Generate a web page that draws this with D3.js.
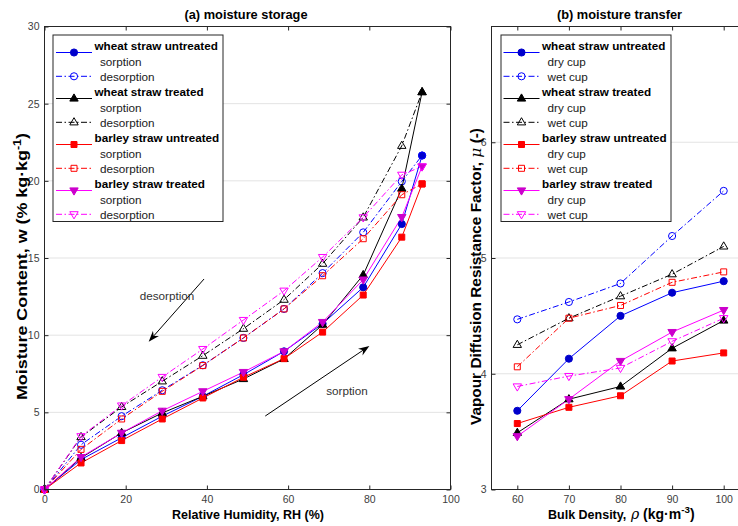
<!DOCTYPE html>
<html>
<head>
<meta charset="utf-8">
<script src="https://cdn.jsdelivr.net/npm/d3@7"></script>
<style>
  html, body { margin: 0; padding: 0; background: #fff; }
  svg { display: block; }
</style>
</head>
<body>
<svg id="chart" width="738" height="526"></svg>
<script>
// ---------- (a) moisture storage: relative humidity (%) vs moisture content (% kg/kg) ----------
const rh = [0, 9, 19, 29, 39, 49, 59, 68.5, 78.5, 88, 93];

const wheatUntreatedSorption   = [0, 1.94, 3.35, 4.75, 6.04, 7.44, 8.95, 10.74, 13.10, 17.20, 21.64];
const wheatUntreatedDesorption = [0, 2.90, 4.75, 6.43, 8.05, 9.82, 11.70, 14.02, 16.66, 19.96, 21.64];
const wheatTreatedSorption     = [0, 2.05, 3.67, 4.96, 6.04, 7.16, 8.46, 10.68, 13.90, 19.50, 25.75];
const wheatTreatedDesorption   = [0, 3.40, 5.35, 7.01, 8.67, 10.42, 12.30, 14.63, 17.63, 22.27, 25.75];
const barleyUntreatedSorption  = [0, 1.72, 3.17, 4.57, 5.93, 7.27, 8.48, 10.20, 12.60, 16.35, 19.80];
const barleyUntreatedDesorption= [0, 2.60, 4.57, 6.36, 8.03, 9.82, 11.70, 13.85, 16.25, 19.10, 19.80];
const barleyTreatedSorption    = [0, 2.10, 3.67, 5.10, 6.36, 7.61, 8.95, 10.85, 13.60, 17.65, 20.93];
const barleyTreatedDesorption  = [0, 3.45, 5.44, 7.29, 9.10, 10.98, 12.88, 15.06, 17.63, 20.39, 20.93];

// ---------- (b) moisture transfer: bulk density vs vapour diffusion resistance factor ----------
const density = [60, 70, 80, 90, 100];

const wheatUntreatedDry   = [3.68, 4.13, 4.50, 4.70, 4.80];
const wheatUntreatedWet   = [4.47, 4.62, 4.78, 5.19, 5.58];
const wheatTreatedDry     = [3.49, 3.78, 3.89, 4.22, 4.46];
const wheatTreatedWet     = [4.25, 4.48, 4.67, 4.86, 5.10];
const barleyUntreatedDry  = [3.57, 3.71, 3.81, 4.11, 4.18];
const barleyUntreatedWet  = [4.06, 4.48, 4.59, 4.79, 4.88];
const barleyTreatedDry    = [3.46, 3.78, 4.11, 4.36, 4.55];
const barleyTreatedWet    = [3.89, 3.98, 4.05, 4.28, 4.48];

// ---------- ticks ----------
const xTicksA = [0, 20, 40, 60, 80, 100];
const yTicksA = [0, 5, 10, 15, 20, 25, 30];
const xTicksB = [60, 70, 80, 90, 100];
const yTicksB = [3, 4, 5, 6];

// ---------- materials and legend labels ----------
const materials = ['wheat straw untreated', 'wheat straw treated', 'barley straw untreated', 'barley straw treated'];
const materialColors = ['#0000ff', '#000000', '#ff0000', '#ff00ff'];
const markerFills = ['#0000cc', '#000000', '#ff0000', '#cc00cc'];
const markerShapes = ['circle', 'triangleUp', 'square', 'triangleDown'];
const storageModes = ['sorption', 'desorption'];
const transferModes = ['dry cup', 'wet cup'];

// annotation arrows in panel (a), in data units [RH, w]
const arrowDesorption = [[39.3, 13.64], [25.66, 9.58]];
const arrowSorption = [[54.37, 4.76], [80.02, 9.30]];
const noteDesorption = [23.44, 12.28];
const noteSorption = [69.37, 6.12];

const storageSeries = [
  [wheatUntreatedSorption, wheatUntreatedDesorption],
  [wheatTreatedSorption, wheatTreatedDesorption],
  [barleyUntreatedSorption, barleyUntreatedDesorption],
  [barleyTreatedSorption, barleyTreatedDesorption]
];
const transferSeries = [
  [wheatUntreatedDry, wheatUntreatedWet],
  [wheatTreatedDry, wheatTreatedWet],
  [barleyUntreatedDry, barleyUntreatedWet],
  [barleyTreatedDry, barleyTreatedWet]
];

const FONT = '"Liberation Sans", Arial, Helvetica, sans-serif';
const AXIS_COLOR = '#262626';
const TICK_TEXT = '#404040';
const DASHDOT = '6,2.5,1.5,2.5';

const svg = d3.select('#chart');

// scales
const xA = d3.scaleLinear().domain([0, 100]).range([44.5, 450.5]);
const yA = d3.scaleLinear().domain([0, 30]).range([489.5, 26.5]);
const xB = d3.scaleLinear().domain([55, 105]).range([491.5, 749.5]);
const yB = d3.scaleLinear().domain([3, 7]).range([489.5, 26.5]);

function markerPath(shape) {
  switch (shape) {
    case 'circle': return d3.symbol(d3.symbolCircle, 40)();
    case 'square': return 'M-3,-3H3V3H-3Z';
    case 'triangleUp': return 'M0,-4.6L4.2,2.6H-4.2Z';
    case 'triangleDown': return 'M0,4.6L4.2,-2.6H-4.2Z';
  }
}

function drawMarker(g, shape, x, y, color, fill, open) {
  g.append('path')
    .attr('d', markerPath(shape))
    .attr('transform', `translate(${x},${y})`)
    .attr('fill', open ? 'none' : fill)
    .attr('stroke', open ? color : fill)
    .attr('stroke-width', 1);
}

function richText(parent, parts, opts) {
  const t = parent.append('text')
    .attr('font-family', FONT)
    .attr('font-size', opts.size)
    .attr('font-weight', opts.weight || 'normal')
    .attr('fill', opts.fill || '#000')
    .attr('text-anchor', opts.anchor || 'start')
    .attr('transform', opts.transform);
  if (opts.textLength) t.attr('textLength', opts.textLength).attr('lengthAdjust', opts.adjust || 'spacingAndGlyphs');
  let shifted = 0;
  parts.forEach(p => {
    const s = t.append('tspan').text(p.t);
    if (p.italic) s.attr('font-style', 'italic').attr('font-weight', 'normal').attr('font-family', '"DejaVu Serif", serif');
    if (p.sup) {
      s.attr('font-size', opts.size * 0.7).attr('dy', -opts.size * 0.42);
      shifted = opts.size * 0.42;
    } else if (shifted) {
      s.attr('dy', shifted);
      shifted = 0;
    }
  });
  return t;
}

function drawPanel(cfg) {
  const g = svg.append('g');
  const [x0, x1] = cfg.x.range();
  const [y0, y1] = cfg.y.range();

  // horizontal grid
  g.append('g').selectAll('line')
    .data(cfg.yTicks.filter(t => t > cfg.y.domain()[0] && t < cfg.y.domain()[1]))
    .join('line')
    .attr('x1', x0).attr('x2', x1)
    .attr('y1', d => cfg.y(d)).attr('y2', d => cfg.y(d))
    .attr('stroke', '#e3e3e3').attr('stroke-width', 1);

  // series lines, then markers
  cfg.series.forEach((pair, m) => {
    pair.forEach((vals, k) => {
      const line = d3.line().x((d, i) => cfg.x(cfg.xs[i])).y(d => cfg.y(d));
      g.append('path')
        .attr('d', line(vals))
        .attr('fill', 'none')
        .attr('stroke', materialColors[m])
        .attr('stroke-width', 1)
        .attr('stroke-dasharray', k === 1 ? DASHDOT : null);
    });
  });
  cfg.series.forEach((pair, m) => {
    pair.forEach((vals, k) => {
      vals.forEach((v, i) => {
        drawMarker(g, markerShapes[m], cfg.x(cfg.xs[i]), cfg.y(v), materialColors[m], markerFills[m], k === 1);
      });
    });
  });

  // axes (ticks pointing inward on all four sides)
  const styleAxis = sel => {
    sel.select('.domain').remove();
    sel.selectAll('line').attr('stroke', AXIS_COLOR);
    sel.selectAll('text').attr('font-family', FONT).attr('font-size', 10.5).attr('fill', TICK_TEXT);
  };
  g.append('g').attr('transform', `translate(0,${y0})`)
    .call(d3.axisBottom(cfg.x).tickValues(cfg.xTicks).tickSizeInner(-4).tickSizeOuter(0).tickPadding(6).tickFormat(d3.format('d')))
    .call(styleAxis);
  g.append('g').attr('transform', `translate(0,${y1})`)
    .call(d3.axisTop(cfg.x).tickValues(cfg.xTicks).tickSizeInner(-4).tickSizeOuter(0).tickFormat(''))
    .call(styleAxis);
  g.append('g').attr('transform', `translate(${x0},0)`)
    .call(d3.axisLeft(cfg.y).tickValues(cfg.yTicks).tickSizeInner(-4).tickSizeOuter(0).tickPadding(5).tickFormat(d3.format('d')))
    .call(styleAxis);
  g.append('g').attr('transform', `translate(${x1},0)`)
    .call(d3.axisRight(cfg.y).tickValues(cfg.yTicks).tickSizeInner(-4).tickSizeOuter(0).tickFormat(''))
    .call(styleAxis);

  g.append('rect')
    .attr('x', x0).attr('y', y1).attr('width', x1 - x0).attr('height', y0 - y1)
    .attr('fill', 'none').attr('stroke', AXIS_COLOR).attr('stroke-width', 1);

  // title
  g.append('text')
    .attr('x', (x0 + x1) / 2 + cfg.titleShift).attr('y', 19)
    .attr('text-anchor', 'middle')
    .attr('font-family', FONT).attr('font-size', 12.8).attr('font-weight', 'bold')
    .attr('fill', '#000')
    .text(cfg.title);

  // legend
  const L = cfg.legend;
  const lg = g.append('g');
  lg.append('rect')
    .attr('x', L.x).attr('y', L.y).attr('width', L.w).attr('height', L.h)
    .attr('fill', '#fff').attr('stroke', AXIS_COLOR).attr('stroke-width', 1);
  materials.forEach((name, m) => {
    const base = L.y + 11 + 46 * m;
    // bold material name + first mode (solid line, filled marker)
    lg.append('text').attr('x', L.textX).attr('y', base + 4)
      .attr('font-family', FONT).attr('font-size', 11.7).attr('font-weight', 'bold').attr('fill', '#000')
      .text(name);
    lg.append('line').attr('x1', L.s0).attr('x2', L.s1).attr('y1', base + 6.5).attr('y2', base + 6.5)
      .attr('stroke', materialColors[m]).attr('stroke-width', 1);
    drawMarker(lg, markerShapes[m], (L.s0 + L.s1) / 2, base + 6.5, materialColors[m], markerFills[m], false);
    lg.append('text').attr('x', L.subX).attr('y', base + 15.5 + 4)
      .attr('font-family', FONT).attr('font-size', 11.7).attr('fill', '#1a1a1a')
      .text(cfg.modes[0]);
    // second mode (dash-dot line, open marker)
    lg.append('line').attr('x1', L.s0).attr('x2', L.s1).attr('y1', base + 30.3).attr('y2', base + 30.3)
      .attr('stroke', materialColors[m]).attr('stroke-width', 1).attr('stroke-dasharray', DASHDOT);
    drawMarker(lg, markerShapes[m], (L.s0 + L.s1) / 2, base + 30.3, materialColors[m], markerFills[m], true);
    lg.append('text').attr('x', L.subX).attr('y', base + 30.5 + 4)
      .attr('font-family', FONT).attr('font-size', 11.7).attr('fill', '#1a1a1a')
      .text(cfg.modes[1]);
  });
  return g;
}

const gA = drawPanel({
  x: xA, y: yA, xs: rh, series: storageSeries, xTicks: xTicksA, yTicks: yTicksA,
  title: '(a) moisture storage', titleShift: -1.5, modes: storageModes,
  legend: { x: 53, y: 35, w: 170, h: 186.5, s0: 56, s1: 92, textX: 94.5, subX: 100 }
});
const gB = drawPanel({
  x: xB, y: yB, xs: density, series: transferSeries, xTicks: xTicksB, yTicks: yTicksB,
  title: '(b) moisture transfer', titleShift: -1, modes: transferModes,
  legend: { x: 501, y: 35, w: 170, h: 186.5, s0: 503.5, s1: 539.5, textX: 542, subX: 547.5 }
});

// ---------- annotations in panel (a) ----------
function arrow(g, from, to) {
  const p0 = [xA(from[0]), yA(from[1])];
  const p1 = [xA(to[0]), yA(to[1])];
  const dx = p1[0] - p0[0], dy = p1[1] - p0[1];
  const len = Math.hypot(dx, dy);
  const ux = dx / len, uy = dy / len, nx = -uy, ny = ux;
  const L = 11, W = 4, N = 7.5;
  g.append('line')
    .attr('x1', p0[0]).attr('y1', p0[1])
    .attr('x2', p1[0] - ux * N).attr('y2', p1[1] - uy * N)
    .attr('stroke', '#000').attr('stroke-width', 1);
  const back = [p1[0] - ux * L, p1[1] - uy * L];
  const notch = [p1[0] - ux * N, p1[1] - uy * N];
  g.append('path')
    .attr('d', `M${p1[0]},${p1[1]}L${back[0] + nx * W},${back[1] + ny * W}L${notch[0]},${notch[1]}L${back[0] - nx * W},${back[1] - ny * W}Z`)
    .attr('fill', '#000');
}
arrow(gA, arrowDesorption[0], arrowDesorption[1]);
arrow(gA, arrowSorption[0], arrowSorption[1]);
gA.append('text').attr('x', xA(noteDesorption[0])).attr('y', yA(noteDesorption[1]))
  .attr('font-family', FONT).attr('font-size', 11.7).attr('fill', '#333').text('desorption');
gA.append('text').attr('x', xA(noteSorption[0])).attr('y', yA(noteSorption[1]))
  .attr('font-family', FONT).attr('font-size', 11.7).attr('fill', '#333').text('sorption');

// ---------- axis titles ----------
richText(svg, [{ t: 'Relative Humidity, RH (%)' }],
  { size: 12.5, weight: 'bold', anchor: 'middle', transform: 'translate(248,519)' });
// bulk density label: plain part, then the symbol/unit part in a slightly larger size
richText(svg, [{ t: 'Bulk Density,' }],
  { size: 12.5, weight: 'bold', anchor: 'start', transform: 'translate(548,519)' });
richText(svg, [{ t: 'ρ', italic: true }, { t: ' (kg·m' }, { t: '-3', sup: true }, { t: ')' }],
  { size: 14, weight: 'bold', anchor: 'start', transform: 'translate(631,519)' });
richText(svg, [{ t: 'Moisture Content, w (% kg·kg' }, { t: '-1', sup: true }, { t: ')' }],
  { size: 15, weight: 'bold', anchor: 'middle', transform: 'translate(27,266.5) rotate(-90)', textLength: 267 });
richText(svg, [{ t: 'Vapour Diffusion Resistance Factor, ' }, { t: 'μ', italic: true }, { t: ' (-)' }],
  { size: 15, weight: 'bold', anchor: 'middle', transform: 'translate(480.5,276.5) rotate(-90)', textLength: 297 });
</script>
</body>
</html>
